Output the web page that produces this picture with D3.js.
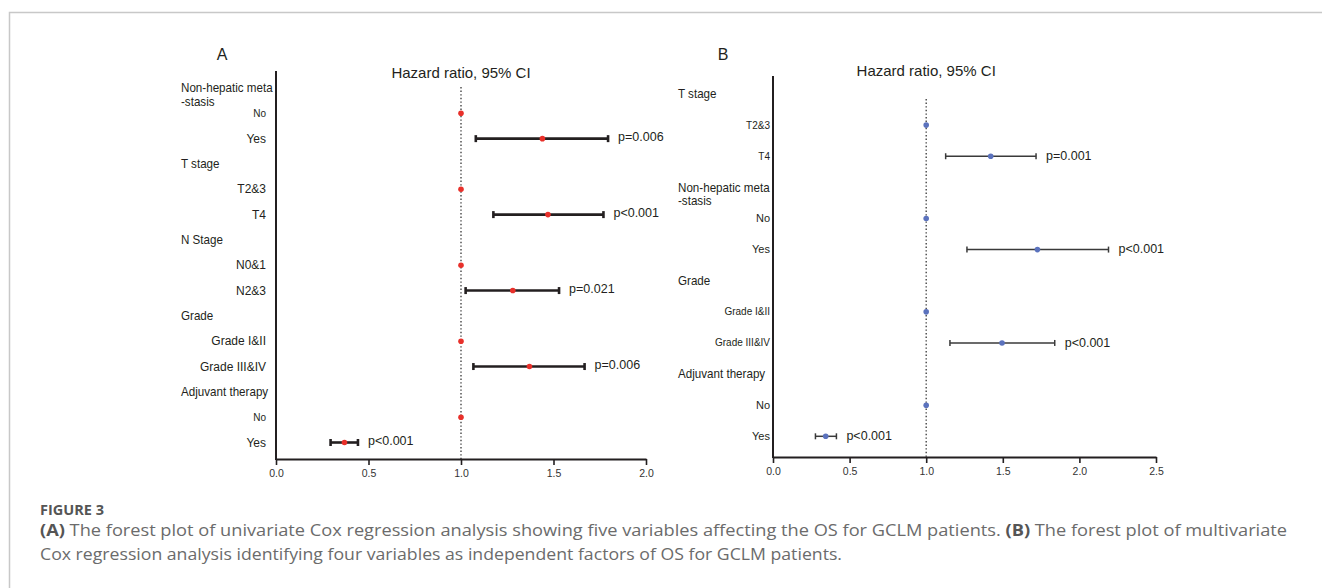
<!DOCTYPE html>
<html>
<head>
<meta charset="utf-8">
<script src="https://cdn.jsdelivr.net/npm/d3@7"></script>
<style>
  body { margin: 0; background: #fff; }
  svg { display: block; }
</style>
</head>
<body>
<svg id="fig"></svg>
<script>
// panel A - univariate
const labelsA = ["Non-hepatic meta\n-stasis", "No", "Yes", "T stage", "T2&3", "T4", "N Stage", "N0&1", "N2&3",
    "Grade", "Grade I&II", "Grade III&IV", "Adjuvant therapy", "No", "Yes"];
const hrA = [null, 1, 1.44, null, 1, 1.47, null, 1, 1.28, null, 1, 1.37, null, 1, 0.37];
const loA = [null, null, 1.08, null, null, 1.175, null, null, 1.025, null, null, 1.067, null, null, 0.295];
const hiA = [null, null, 1.795, null, null, 1.77, null, null, 1.53, null, null, 1.668, null, null, 0.443];
const pA = ["", "", "p=0.006", "", "", "p<0.001", "", "", "p=0.021", "", "", "p=0.006", "", "", "p<0.001"];
const ticksA = [0, 0.5, 1, 1.5, 2];

// panel B - multivariate
const labelsB = ["T stage", "T2&3", "T4", "Non-hepatic meta\n-stasis", "No", "Yes", "Grade", "Grade I&II",
    "Grade III&IV", "Adjuvant therapy", "No", "Yes"];
const hrB = [null, 1, 1.421, null, 1, 1.726, null, 1, 1.495, null, 1, 0.344];
const loB = [null, null, 1.127, null, null, 1.266, null, null, 1.155, null, null, 0.277];
const hiB = [null, null, 1.717, null, null, 2.19, null, null, 1.839, null, null, 0.414];
const pB = ["", "", "p=0.001", "", "", "p<0.001", "", "", "p<0.001", "", "", "p<0.001"];
const ticksB = [0, 0.5, 1, 1.5, 2, 2.5];

const title = "Hazard ratio, 95% CI";
const figLabel = "FIGURE 3";
const captionA = " The forest plot of univariate Cox regression analysis showing five variables affecting the OS for GCLM patients. ";
const captionB = " The forest plot of multivariate";
const caption2 = "Cox regression analysis identifying four variables as independent factors of OS for GCLM patients.";

const W = 1322, H = 588;
const font = "'Liberation Sans', Arial, sans-serif";
const svg = d3.select("#fig").attr("width", W).attr("height", H);

// page frame
svg.append("path")
    .attr("d", `M9.5,${H} V12.5 H${W}`)
    .attr("fill", "none")
    .attr("stroke", "#c8c8c8")
    .attr("stroke-width", 1.5);

function drawForest(cfg) {
    const g = svg.append("g").style("font-family", font).attr("fill", "#231f20");
    const x = d3.scaleLinear().domain(cfg.domain).range([cfg.x0, cfg.x1]);
    const rows = d3.range(cfg.labels.length);
    const y = d3.scalePoint().domain(rows).range([cfg.rowTop, cfg.rowBottom]);
    const isHead = i => cfg.hr[i] === null;

    // panel letter + title
    g.append("text").attr("x", cfg.letterX).attr("y", 60)
        .attr("font-size", 16).attr("text-anchor", "middle").text(cfg.letter);
    g.append("text").attr("x", x(1)).attr("y", cfg.titleY)
        .attr("font-size", 15).attr("text-anchor", "middle").text(title);

    // reference line at HR = 1
    g.append("line")
        .attr("x1", x(1)).attr("x2", x(1))
        .attr("y1", cfg.refTop).attr("y2", cfg.yAxis)
        .attr("stroke", "#444").attr("stroke-width", 1.4)
        .attr("stroke-dasharray", "1.4,2.2");

    // left axis line
    g.append("line")
        .attr("x1", cfg.x0).attr("x2", cfg.x0)
        .attr("y1", cfg.yTop).attr("y2", cfg.yAxis + 1)
        .attr("stroke", "#231f20").attr("stroke-width", 2);

    // bottom axis
    const ax = g.append("g")
        .attr("transform", `translate(0,${cfg.yAxis})`)
        .call(d3.axisBottom(x).tickValues(cfg.ticks).tickSize(6).tickSizeOuter(0)
            .tickPadding(5).tickFormat(d3.format(".1f")));
    ax.select(".domain").attr("stroke", "#231f20").attr("stroke-width", 2);
    ax.selectAll(".tick line").attr("stroke", "#231f20").attr("stroke-width", 1.6);
    ax.selectAll(".tick text").attr("font-family", font).attr("font-size", 10.5).attr("fill", "#333");

    // row labels (group headings are a bit narrower in the original)
    rows.forEach(i => {
        const lines = cfg.labels[i].split("\n");
        const lx = isHead(i) ? cfg.x0 - 95 : cfg.subX;
        const t = g.append("text")
            .attr("y", y(i))
            .attr("text-anchor", isHead(i) ? "start" : "end")
            .attr("font-size", isHead(i) ? 12.5 : cfg.subSize(cfg.labels[i], i));
        if (isHead(i)) t.attr("transform", `translate(${lx},0) scale(0.93,1) translate(${-lx},0)`);
        lines.forEach((l, k) => {
            t.append("tspan").attr("x", lx)
                .attr("dy", k === 0 ? "0.35em" : "1.1em").text(l);
        });
    });

    const ci = rows.filter(i => cfg.lo[i] !== null);

    // CI bars
    g.selectAll(".ci").data(ci).join("line")
        .attr("x1", i => x(cfg.lo[i])).attr("x2", i => x(cfg.hi[i]))
        .attr("y1", i => y(i)).attr("y2", i => y(i))
        .attr("stroke", cfg.barColor).attr("stroke-width", cfg.barW);
    ["lo", "hi"].forEach(k => {
        g.selectAll(".cap-" + k).data(ci).join("line")
            .attr("x1", i => x(cfg[k][i])).attr("x2", i => x(cfg[k][i]))
            .attr("y1", i => y(i) - cfg.capH / 2).attr("y2", i => y(i) + cfg.capH / 2)
            .attr("stroke", cfg.barColor).attr("stroke-width", cfg.barW);
    });

    // points
    g.selectAll(".pt").data(rows.filter(i => !isHead(i))).join("circle")
        .attr("cx", i => x(cfg.hr[i])).attr("cy", i => y(i))
        .attr("r", 2.8).attr("fill", cfg.dot);

    // p values
    g.selectAll(".pv").data(ci).join("text")
        .attr("x", i => x(cfg.hi[i]) + 10)
        .attr("y", i => y(i) - cfg.pShift)
        .attr("dy", "0.35em")
        .attr("font-size", 12.5)
        .text(i => cfg.p[i]);
}

drawForest({
    labels: labelsA, hr: hrA, lo: loA, hi: hiA, p: pA, ticks: ticksA, domain: [0, 2],
    x0: 276, x1: 646, yTop: 71, yAxis: 459, rowTop: 88, rowBottom: 442.5, refTop: 87,
    subX: 266, letter: "A", letterX: 222, titleY: 78,
    subSize: (l, i) => (l === "No" ? 10 : 12),
    dot: "#e8302a", barColor: "#231f20", barW: 2.6, capH: 7, pShift: 2
});

drawForest({
    labels: labelsB, hr: hrB, lo: loB, hi: hiB, p: pB, ticks: ticksB, domain: [0, 2.5],
    x0: 773, x1: 1156, yTop: 76, yAxis: 457, rowTop: 94, rowBottom: 436.3, refTop: 99,
    subX: 770, letter: "B", letterX: 723, titleY: 76,
    subSize: (l, i) => (l === "No" || l === "Yes" ? 11 : 10),
    dot: "#5b72bd", barColor: "#3a3a3a", barW: 1.5, capH: 6, pShift: 0.5
});

// caption
const cap = svg.append("g").style("font-family", "'Open Sans', 'Noto Sans', sans-serif");
cap.append("text").attr("x", 40).attr("y", 515)
    .attr("font-size", 14).attr("font-weight", 700).attr("fill", "#555")
    .attr("textLength", 64).attr("lengthAdjust", "spacingAndGlyphs")
    .text(figLabel);
const l1 = cap.append("text").attr("x", 40).attr("y", 536)
    .attr("font-size", 16.5).attr("fill", "#6b6b6b")
    .attr("textLength", 1247).attr("lengthAdjust", "spacingAndGlyphs");
l1.append("tspan").attr("font-weight", 700).attr("fill", "#555").text("(A)");
l1.append("tspan").text(captionA);
l1.append("tspan").attr("font-weight", 700).attr("fill", "#555").text("(B)");
l1.append("tspan").text(captionB);
cap.append("text").attr("x", 40).attr("y", 560)
    .attr("font-size", 16.5).attr("fill", "#6b6b6b")
    .attr("textLength", 802).attr("lengthAdjust", "spacingAndGlyphs")
    .text(caption2);
</script>
</body>
</html>
